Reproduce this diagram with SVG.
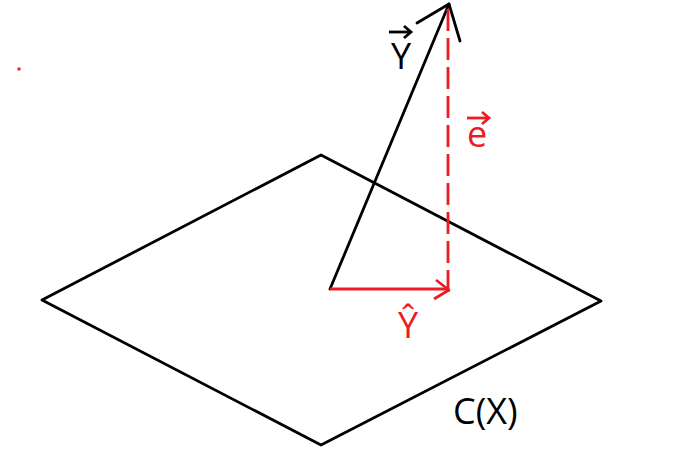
<svg xmlns="http://www.w3.org/2000/svg" width="683" height="463" viewBox="0 0 683 463">
<style>
.blk{fill:none;stroke:#000;stroke-width:2.8;stroke-linecap:round;stroke-linejoin:round}
.red{fill:none;stroke:#ED1C24;stroke-width:2.8;stroke-linecap:butt;stroke-linejoin:round}
.lbl{font-family:"Open Sans","Liberation Sans",sans-serif;font-size:36px}
.lk{fill:#000}
.lr{fill:#ED1C24}
</style>
<rect width="683" height="463" fill="#fff"/>
<g id="plane">
<polygon class="blk" points="42,300 321,155 601,301 321,445"/>
</g>
<g id="dot"><rect x="17.5" y="67.5" width="3" height="3" fill="#ED1C24"/></g>
<g id="connectors">
<g id="vecY">
<line class="blk" x1="330" y1="289" x2="449" y2="4"/>
<polyline class="blk" points="417,23 449,4 460,41"/>
</g>
<g id="vecYhat">
<line class="red" x1="330" y1="289" x2="449" y2="289"/>
<polyline class="red" points="436,280 449,290 434,299"/>
</g>
<g id="vecE">
<line class="red" x1="448" y1="9" x2="448" y2="292" stroke-dasharray="22,7"/>
</g>
</g>
<g id="labelY">
<text class="lbl lk" x="401" y="69" text-anchor="middle">Y</text>
<line x1="389" y1="32" x2="411" y2="32" stroke="#000" stroke-width="2.8"/>
<polyline points="404,26 411,32 404,38" fill="none" stroke="#000" stroke-width="2.8"/>
</g>
<g id="labelE">
<text class="lbl lr" x="477" y="147" text-anchor="middle">e</text>
<line x1="467" y1="118" x2="489" y2="118" stroke="#ED1C24" stroke-width="2.8"/>
<polyline points="482,112 489,118 482,124" fill="none" stroke="#ED1C24" stroke-width="2.8"/>
</g>
<g id="labelYhat">
<text class="lbl lr" x="408" y="338" text-anchor="middle">Ŷ</text>
</g>
<g id="labelC">
<text class="lbl lk" x="453" y="424">C(X)</text>
</g>
</svg>
